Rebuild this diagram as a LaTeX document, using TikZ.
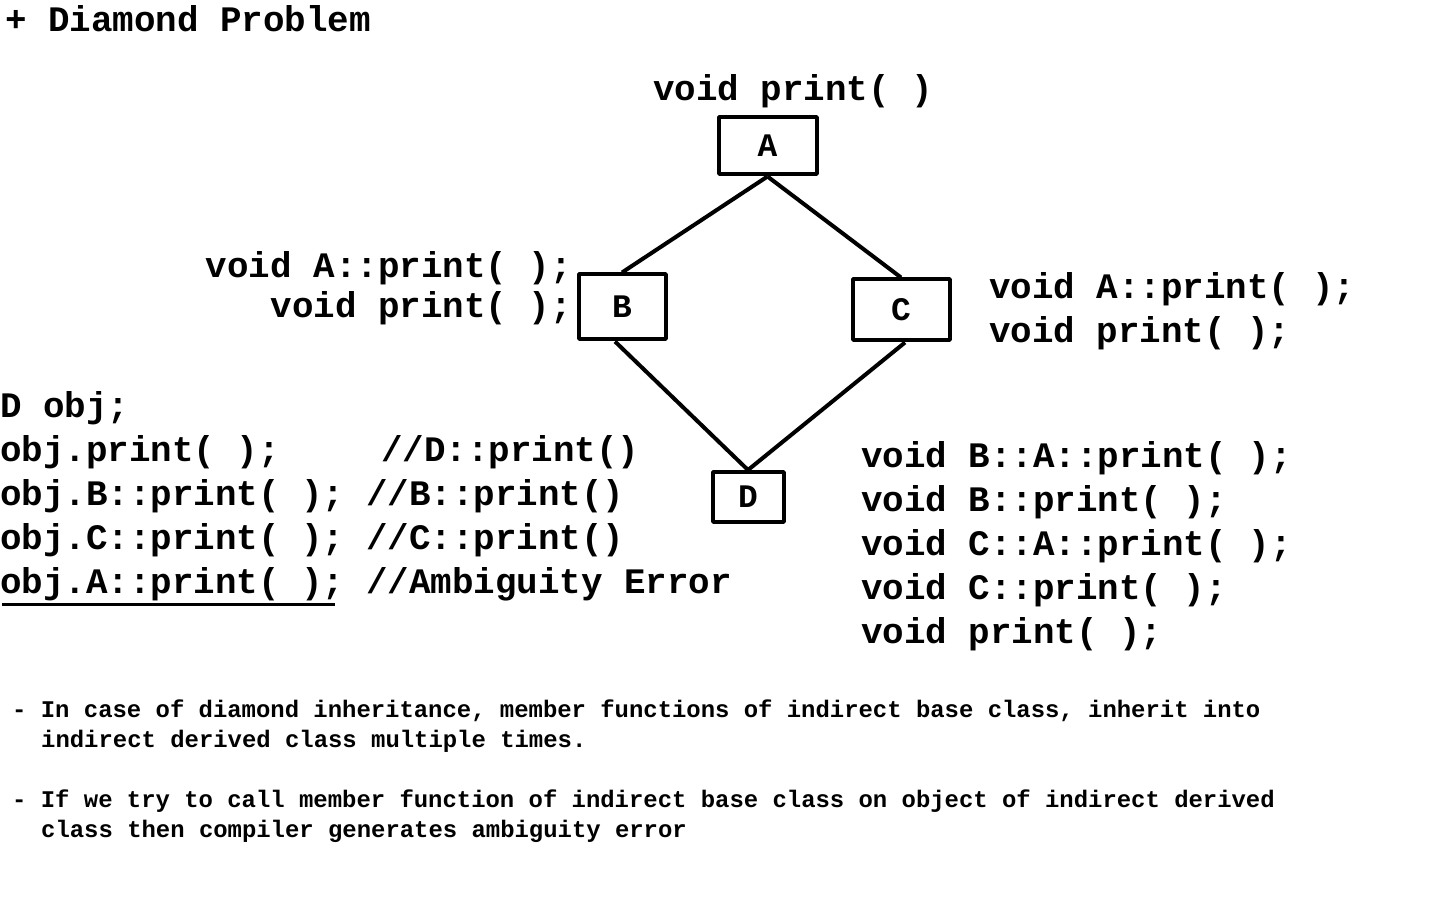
\documentclass[tikz,border=0pt]{standalone}
\usepackage{fontspec}
\newfontfamily\codefont{Liberation Mono}
\tikzset{
  txt/.style={draw=none,inner sep=0pt,font=\codefont\bfseries\fontsize{36}{36}\selectfont},
  note/.style={draw=none,inner sep=0pt,font=\codefont\bfseries\fontsize{24}{24}\selectfont},
  cls/.style={draw,line width=4bp,inner sep=0pt,font=\codefont\bfseries\fontsize{33}{33}\selectfont},
}
\begin{document}
\begin{tikzpicture}[line join=bevel,]
\useasboundingbox (0bp,0bp) rectangle (1440bp,900bp);
%%
\node (title) at (5bp,868bp) [txt,anchor=base west] {+ Diamond Problem};
\node (node_a) at (767.5bp,754bp) [cls,minimum width=98bp,minimum height=57bp] {A};
  \node (node_b) at (622bp,593bp) [cls,minimum width=87bp,minimum height=65bp] {B};
  \node (node_c) at (901bp,590bp) [cls,minimum width=97bp,minimum height=61bp] {C};
  \node (node_d) at (748bp,403bp) [cls,minimum width=71bp,minimum height=50bp] {D};
  \draw [black,line width=4bp] (node_a.south) -- (node_b.north);
  \draw [black,line width=4bp] (node_a.south) -- (node_c.north);
  \draw [black,line width=4bp] ([xshift=-7bp]node_b.south) -- (node_d.north);
  \draw [black,line width=4bp] ([xshift=4bp]node_c.south) -- (node_d.north);
%
\node (a_fn) at (653bp,799bp) [txt,anchor=base west] {void print( )};
\node (b_fn1) at (572bp,622bp) [txt,anchor=base east] {void A::print( );};
  \node (b_fn2) at (572bp,582bp) [txt,anchor=base east] {void print( );};
\node (c_fn1) at (989bp,601bp) [txt,anchor=base west] {void A::print( );};
  \node (c_fn2) at (989bp,557bp) [txt,anchor=base west] {void print( );};
%
\node (main_1) at (0bp,482bp) [txt,anchor=base west] {D obj;};
  \node (main_2) at (0bp,438bp) [txt,anchor=base west] {obj.print( );};
  \node (main_2c) at (381bp,438bp) [txt,anchor=base west] {//D::print()};
  \node (main_3) at (0bp,394bp) [txt,anchor=base west] {obj.B::print( ); //B::print()};
  \node (main_4) at (0bp,350bp) [txt,anchor=base west] {obj.C::print( ); //C::print()};
  \node (main_5) at (0bp,306bp) [txt,anchor=base west] {obj.A::print( ); //Ambiguity Error};
  \draw [black,line width=3bp] (2bp,295bp) -- (335bp,295bp);
%
\node (d_fn1) at (861bp,432bp) [txt,anchor=base west] {void B::A::print( );};
  \node (d_fn2) at (861bp,388bp) [txt,anchor=base west] {void B::print( );};
  \node (d_fn3) at (861bp,344bp) [txt,anchor=base west] {void C::A::print( );};
  \node (d_fn4) at (861bp,300bp) [txt,anchor=base west] {void C::print( );};
  \node (d_fn5) at (861bp,256bp) [txt,anchor=base west] {void print( );};
%
\node (note_1) at (12bp,182bp) [note,anchor=base west] {- In case of diamond inheritance, member functions of indirect base class, inherit into};
  \node (note_1b) at (41bp,152bp) [note,anchor=base west] {indirect derived class multiple times.};
  \node (note_2) at (12bp,92bp) [note,anchor=base west] {- If we try to call member function of indirect base class on object of indirect derived};
  \node (note_2b) at (41bp,62bp) [note,anchor=base west] {class then compiler generates ambiguity error};
%
\end{tikzpicture}
\end{document}
